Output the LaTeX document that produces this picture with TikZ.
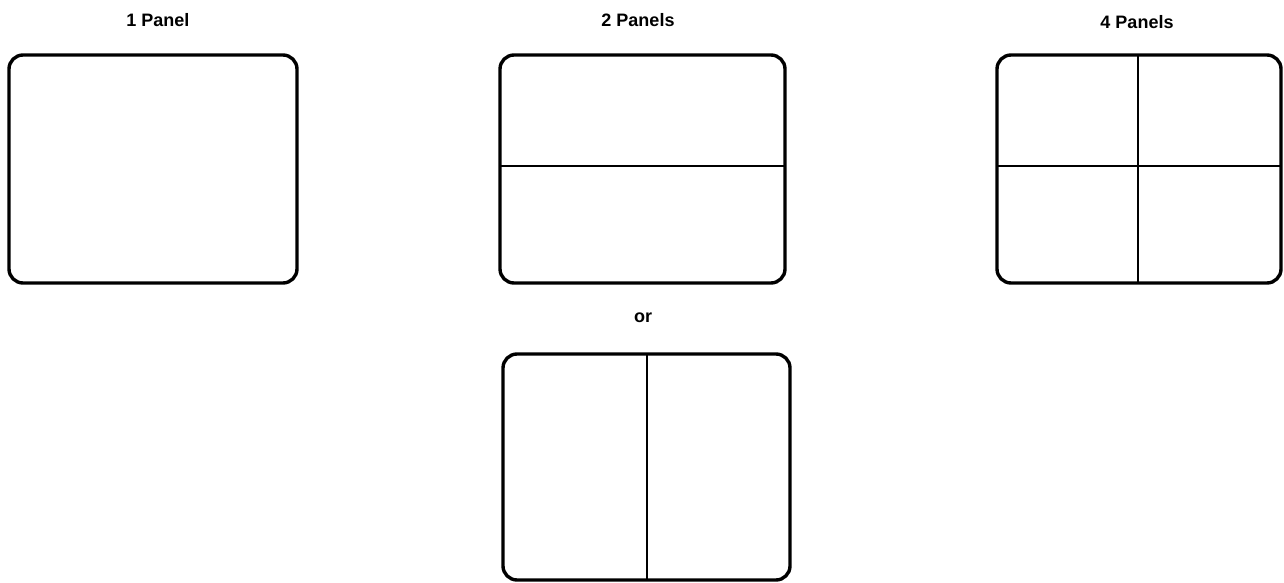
\documentclass[tikz,border=0pt]{standalone}
\usepackage{fontspec}
\setmainfont{Liberation Sans}
\begin{document}
\begin{tikzpicture}[x=1pt,y=-1pt,
  screen/.style={draw=black, line width=3.4pt, rounded corners=14pt, inner sep=0pt, outer sep=0pt},
  divider/.style={draw=black, line width=2pt},
  caption/.style={font=\fontsize{18}{20}\selectfont\bfseries, inner sep=0pt}]
\useasboundingbox (0,0) rectangle (1284,583);
\node[screen, minimum width=288pt, minimum height=228pt] (p1) at (153,169) {};
\node[screen, minimum width=285pt, minimum height=228pt] (p2) at (642.5,169) {};
\node[screen, minimum width=284pt, minimum height=228pt] (p4) at (1139,169) {};
\node[screen, minimum width=287pt, minimum height=226pt] (p2v) at (646.5,467) {};
\node[caption] (t1) at (158,20) {1 Panel};
\node[caption] (t2) at (638,20) {2 Panels};
\node[caption] (t4) at (1137,22) {4 Panels};
\node[caption] (tor) at (643,318) {or};
\draw[divider] ([yshift=3pt]p2.west) -- ([yshift=3pt]p2.east);
\draw[divider] ([yshift=3pt]p4.west) -- ([yshift=3pt]p4.east);
\draw[divider] ([xshift=-1pt]p4.north) -- ([xshift=-1pt]p4.south);
\draw[divider] (p2v.north) -- (p2v.south);
\end{tikzpicture}
\end{document}
